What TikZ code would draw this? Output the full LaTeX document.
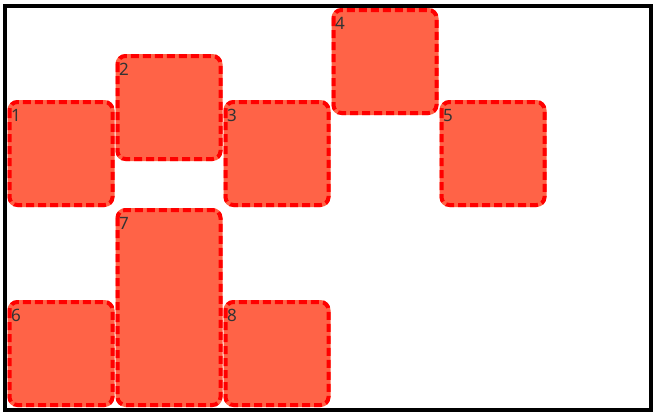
\documentclass[tikz,border=0pt]{standalone}
\usepackage{fontspec}
\setmainfont{Noto Sans}
\definecolor{tomatofill}{HTML}{FF6347}
\definecolor{labelgray}{HTML}{333333}
\tikzset{
  cellfill/.style={fill=tomatofill, rounded corners=10pt},
  cellborder/.style={draw=red, line width=4pt, dash pattern=on 8pt off 4pt, rounded corners=8pt},
  celllabel/.style={anchor=base west, inner sep=0pt, text=labelgray, font=\fontsize{17}{19}\selectfont}
}
\begin{document}
\begin{tikzpicture}[x=1pt,y=-1pt]
\useasboundingbox (0,0) rectangle (656,415);
\fill[white] (0,0) rectangle (656,415);
\draw[line width=4pt] (5,6) rectangle (651,409.5) coordinate (frame);
% cells: outer extents given
\newcommand{\cellbox}[5]{%
  \fill[cellfill] (#1,#2) rectangle (#3,#4);
  \draw[cellborder] (#1+2,#2+2) rectangle (#3-2,#4-2);
  \node[celllabel] (n#5) at (#1+3.5,#2+21) {#5};
}
\cellbox{7.5}{100}{114.5}{207}{1}
\cellbox{115.5}{54}{222.5}{161}{2}
\cellbox{223.5}{100}{330.5}{207}{3}
\cellbox{331.5}{8}{438.5}{115}{4}
\cellbox{439.5}{100}{546.5}{207}{5}
\cellbox{7.5}{300}{114.5}{407}{6}
\cellbox{115.5}{208}{222.5}{407}{7}
\cellbox{223.5}{300}{330.5}{407}{8}
\end{tikzpicture}
\end{document}
